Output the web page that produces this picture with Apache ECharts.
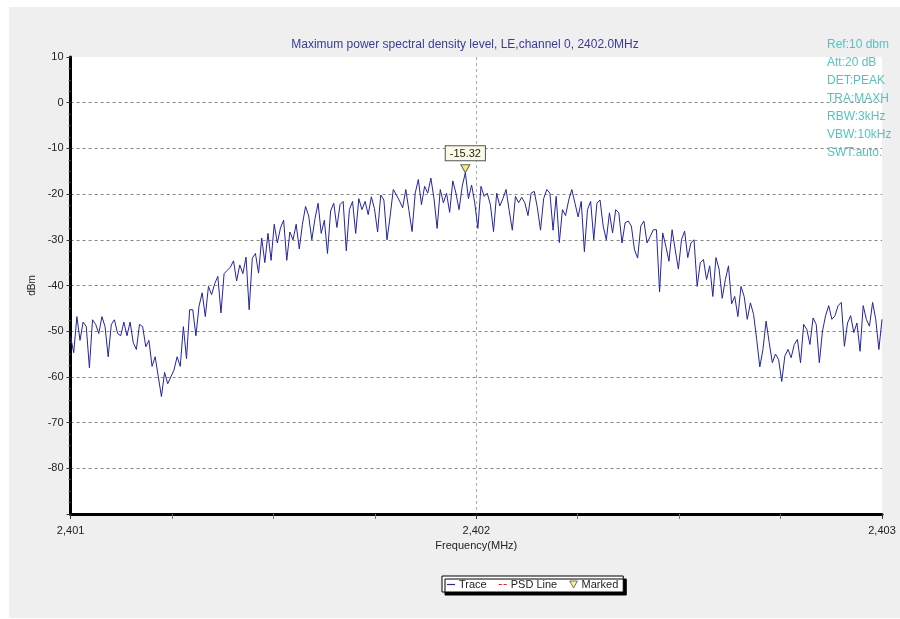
<!DOCTYPE html>
<html lang="en">

<head>
    <meta charset="UTF-8">
    <title>Maximum power spectral density level</title>
    <style>
        body {
            margin: 0;
            background: #fff;
        }

        #chart {
            width: 900px;
            height: 619px;
        }
    </style>
</head>

<body>
    <div id="chart"></div>
    <script src="https://cdn.jsdelivr.net/npm/echarts@6/dist/echarts.min.js"></script>
    <script>
        // trace, left to right, 2401 -> 2403 MHz
        const levels = [
            -51.2, -54.7, -46.8, -52, -48, -49, -58, -47.5, -48.5, -50.5, -46.8, -49, -55.6, -48.5, -47.5, -50.5,
            -51, -48, -51, -48, -52.5, -54, -48.5, -49, -53.4, -52, -57.7, -55.6, -60, -64.3, -59, -61.5, -60,
            -58.5, -55.6, -57.7, -49, -56, -45.3, -45.3, -51, -44.5, -41.6, -46.8, -40.2, -42, -39.6, -38, -46,
            -37.4, -36.7,
            -36, -34.6, -39, -35.5, -37.4, -33.8, -45.3, -34, -33, -37.3, -29.6, -35, -28.6, -34.5, -26.6, -30.7,
            -27.4, -25.7, -34.5, -28.3, -30, -26.6, -32, -26.6, -22.7, -24.8, -30, -25.4, -22, -28.6, -25.7, -33,
            -23.7, -22, -27.3, -22.3, -21.6, -32.4, -23.4, -21.6, -28.6, -21, -23.4, -21.6, -24.5, -20.6, -23.2,
            -28.3, -20.2, -21.3, -30, -24.8, -19, -20.2, -21.5,
            -23, -19, -23.6, -28.2, -19.8, -16.8, -22.3, -18.3, -19.8, -16.5, -21, -27.5, -19, -21.9, -19.8, -24,
            -17.1, -19.8, -23.4, -18.3, -15.32, -21, -18, -21.9, -27.5, -18.3, -20.5, -19.8, -22.3, -28.2, -19.8,
            -22.6, -21, -19, -23.6, -27.9, -20.5, -21.9, -20.7, -21.9, -24.7, -19.8, -19.4, -23, -27.9, -21, -19,
            -19.8, -27.9, -20.5, -30.6, -23.4, -24.7,
            -21.3, -19, -22, -25, -21.6, -32.6, -23.4, -21.6, -30, -22, -21.3, -27, -30, -24.1, -28.5, -23.4, -24.1,
            -30.7, -26.3, -25.9, -27, -32.2, -34, -27, -25.9, -30.7, -29.3, -27.8, -27.8, -41.4, -28.5, -31.4, -34.7,
            -27.8, -32.2, -36.4, -30, -28.1, -33.9, -30.7, -30, -40.2, -35, -34.3, -38.7, -35.7, -42.4, -33.9, -36.4,
            -42.8, -38.7, -35.7, -44, -42.4, -46.8,
            -40.2, -42.4, -47.4, -43.8, -46.3, -51.8, -57.8, -54, -47.8, -52.5, -56.9, -55, -56.2, -61, -55.4, -54,
            -55.8, -52.9, -51.8, -56.9, -48.5, -49.6, -52.9, -47.1, -48.5, -56.9, -50, -46.6, -44.4, -47.4, -46.6,
            -44.4, -43.7, -53.3, -48.2, -46.6, -50.3, -48.2, -54.4, -44.4, -47.4, -48.9, -43.7, -47.4, -54, -47.4
        ];
        const freqStart = 2401;
        const freqEnd = 2403;
        const infoLines = ['Ref:10 dbm', 'Att:20 dB', 'DET:PEAK', 'TRA:MAXH', 'RBW:3kHz', 'VBW:10kHz', 'SWT:auto.'];
        const legendNames = ['Trace', 'PSD Line', 'Marked'];

        const step = (freqEnd - freqStart) / (levels.length - 1);
        const trace = levels.map((v, i) => [freqStart + i * step, v]);

        const font = 'Liberation Sans';
        const chart = echarts.init(document.getElementById('chart'));

        chart.setOption({
            backgroundColor: '#ffffff',
            animation: false,
            textStyle: { fontFamily: font },
            graphic: [{
                type: 'rect',
                z: -100,
                shape: { x: 9, y: 7, width: 891, height: 611 },
                style: { fill: '#efefef' }
            }],
            title: [{
                text: 'Maximum power spectral density level, LE,channel 0, 2402.0MHz',
                left: 460,
                textAlign: 'center',
                top: 34,
                textStyle: { fontSize: 12, fontWeight: 'normal', color: '#3a3a9e', fontFamily: font }
            }, {
                text: infoLines.join('\n'),
                left: 822,
                top: 31,
                textStyle: { fontSize: 12, fontWeight: 'normal', color: '#55c2c2', lineHeight: 18, fontFamily: font }
            }],
            legend: {
                left: 442,
                top: 576,
                padding: [3, 5, 2, 5],
                itemGap: 12,
                itemWidth: 8,
                itemHeight: 7,
                backgroundColor: '#ffffff',
                borderColor: '#000',
                borderWidth: 1,
                shadowColor: '#000',
                shadowOffsetX: 3,
                shadowOffsetY: 3,
                textStyle: { fontSize: 11, color: '#222', padding: [0, 0, 0, -1] },
                data: [
                    { name: legendNames[0], icon: 'path://M0,4 L10,4 L10,5.5 L0,5.5 Z', itemStyle: { color: '#2a2a8a' } },
                    { name: legendNames[1], icon: 'path://M0,4 L4,4 L4,5.5 L0,5.5 Z M6,4 L10,4 L10,5.5 L6,5.5 Z', itemStyle: { color: '#e02020' } },
                    { name: legendNames[2], icon: 'path://M0,0 L10,0 L5,9 Z', itemStyle: { color: '#f4f070', borderColor: '#555', borderWidth: 1 } }
                ]
            },
            grid: {
                left: 70.6,
                right: 18,
                top: 57,
                bottom: 105,
                show: true,
                backgroundColor: '#ffffff',
                borderWidth: 0
            },
            xAxis: {
                type: 'value',
                min: freqStart,
                max: freqEnd,
                interval: 1,
                name: 'Frequency(MHz)',
                nameLocation: 'middle',
                nameGap: 26,
                nameTextStyle: { fontSize: 11, color: '#222' },
                axisLine: { onZero: false, lineStyle: { color: '#000', width: 3 } },
                axisTick: { show: true, length: 5, lineStyle: { color: '#333' } },
                minorTick: { show: true, splitNumber: 4, length: 5, lineStyle: { color: '#777' } },
                axisLabel: {
                    fontSize: 11, color: '#222', margin: 11,
                    formatter: v => v.toLocaleString('en-US')
                },
                splitLine: {
                    show: true, showMinLine: false, showMaxLine: false,
                    lineStyle: { color: '#aaa', type: [3, 3] }
                }
            },
            yAxis: {
                type: 'value',
                min: -90,
                max: 10,
                interval: 10,
                name: 'dBm',
                nameLocation: 'middle',
                nameGap: 26,
                nameRotate: 90,
                nameTextStyle: { fontSize: 10, color: '#222' },
                axisLine: { show: true, onZero: false, lineStyle: { color: '#000', width: 3 } },
                axisTick: { show: true, length: 4, lineStyle: { color: '#333' } },
                minorTick: { show: true, splitNumber: 4, length: 2, lineStyle: { color: '#555' } },
                axisLabel: {
                    fontSize: 11, color: '#222', margin: 7,
                    showMinLabel: false
                },
                splitLine: {
                    show: true, showMinLine: false, showMaxLine: false,
                    lineStyle: { color: '#888', type: [3, 3] }
                }
            },
            series: [{
                name: legendNames[0],
                type: 'line',
                data: trace,
                symbol: 'none',
                lineStyle: { color: '#2424a0', width: 1 },
                itemStyle: { color: '#2a2a8a' },
                markPoint: {
                    symbol: 'triangle',
                    symbolRotate: 180,
                    symbolSize: [9, 8],
                    symbolOffset: [0, -4],
                    itemStyle: { color: '#f4f070', borderColor: '#666', borderWidth: 1 },
                    label: {
                        show: true,
                        position: 'top',
                        distance: 4,
                        formatter: p => p.value.toFixed(2),
                        fontSize: 11,
                        color: '#222',
                        backgroundColor: '#fafae6',
                        borderColor: '#555',
                        borderWidth: 1,
                        padding: [2, 4, 1, 4]
                    },
                    data: [{ type: 'max' }]
                }
            }, {
                name: legendNames[1],
                type: 'line',
                data: [],
                lineStyle: { color: '#e02020', type: 'dashed' },
                itemStyle: { color: '#e02020' }
            }, {
                name: legendNames[2],
                type: 'scatter',
                data: [],
                itemStyle: { color: '#f4f070' }
            }]
        });
    </script>
</body>

</html>
